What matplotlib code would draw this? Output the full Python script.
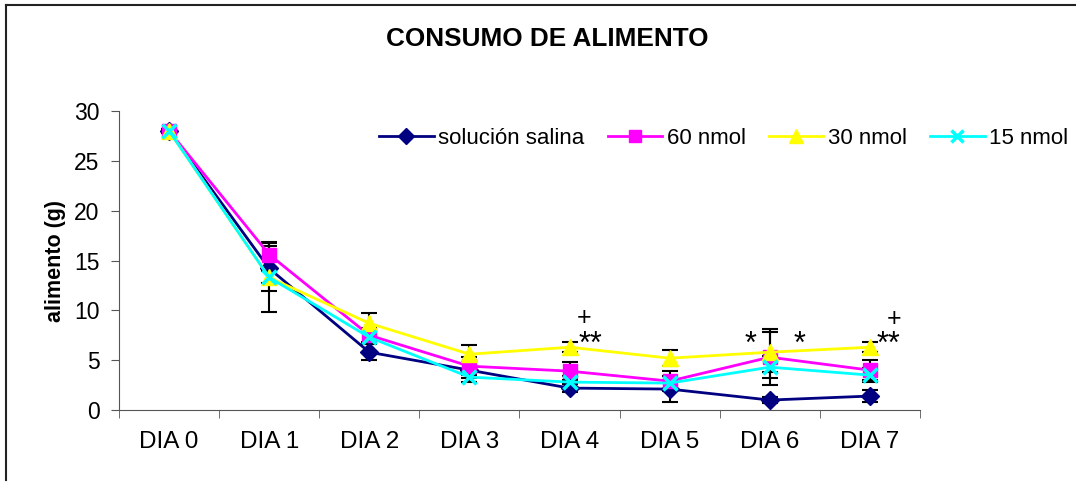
import numpy as np
import matplotlib.pyplot as plt
from matplotlib.lines import Line2D

dias = ['DIA 0', 'DIA 1', 'DIA 2', 'DIA 3', 'DIA 4', 'DIA 5', 'DIA 6', 'DIA 7']

salina = [28.0, 14.2, 5.8, 4.0, 2.2, 2.1, 1.0, 1.4]
nmol60 = [28.0, 15.6, 7.5, 4.4, 3.9, 2.9, 5.3, 4.0]
nmol30 = [28.0, 13.3, 8.7, 5.6, 6.3, 5.2, 5.8, 6.3]
nmol15 = [28.0, 13.3, 7.3, 3.3, 2.8, 2.7, 4.3, 3.5]

err_salina = [0.2, 2.3, 0.8, 0.8, 0.4, 1.3, 0.3, 0.6]
err_60 = [0.2, 1.3, 0.7, 0.9, 0.9, 1.0, 2.8, 1.0]
err_30 = [0.2, 0.6, 1.0, 0.9, 0.5, 0.8, 2.0, 0.5]
err_15 = [0.2, 3.5, 0.6, 0.5, 0.6, 0.7, 1.1, 0.7]

# significance marks: (day, y, text)
marks = [(4.14, 9.2, '+'), (4.21, 7.8, '**'),
         (5.81, 7.8, '*'), (6.30, 7.8, '*'),
         (7.18, 7.8, '**'), (7.24, 9.1, '+')]

series = [
    ('solución salina', salina, err_salina, '#000080', 'D', 9),
    ('60 nmol', nmol60, err_60, '#FF00FF', 's', 10),
    ('30 nmol', nmol30, err_30, '#FFFF00', '^', 11),
    ('15 nmol', nmol15, err_15, '#00FFFF', 'x', 10),
]

FONT = 'Liberation Sans'

fig = plt.figure(figsize=(10.76, 4.83), dpi=100)
ax = fig.add_axes([0.1106, 0.1511, 0.7444, 0.6191])

x = np.arange(len(dias))
for label, vals, err, color, marker, ms in series:
    ax.errorbar(x, vals, yerr=err, fmt='none', ecolor='black',
                elinewidth=1.5, capsize=5.5, capthick=1.5, zorder=2)
for label, vals, err, color, marker, ms in series:
    mew = 2.5 if marker == 'x' else 1
    ax.plot(x, vals, color=color, lw=2, marker=marker, ms=ms,
            mec=color, mfc=color, mew=mew, label=label, zorder=3)

for xd, yd, txt in marks:
    if txt == '+':
        ax.text(xd, yd, txt, fontsize=18, ha='center', va='center', family=FONT)
    else:
        # asterisks sit high in the glyph box, shift them down
        ax.text(xd, yd - 1.3, txt, fontsize=22, ha='center', va='center',
                family=FONT)

ax.set_xlim(-0.5, 7.5)
ax.set_ylim(0, 30)
ax.set_yticks([0, 5, 10, 15, 20, 25, 30])
ax.set_xticks(x)
ax.set_xticklabels(dias)
ax.set_xticks(np.arange(-0.5, 8, 1), minor=True)
ax.tick_params(axis='x', which='major', length=0, pad=15, labelsize=17.5)
ax.tick_params(axis='x', which='minor', length=6, color='#555555')
ax.tick_params(axis='y', length=6, color='#555555', direction='out', pad=8,
               labelsize=16.5)
for lbl in ax.get_xticklabels() + ax.get_yticklabels():
    lbl.set_family(FONT)
for s in ['top', 'right']:
    ax.spines[s].set_visible(False)
for s in ['left', 'bottom']:
    ax.spines[s].set_color('#555555')

ax.set_ylabel('alimento (g)', fontsize=15.5, fontweight='bold',
              family=FONT, labelpad=6)
fig.text(0.509, 0.919, 'CONSUMO DE ALIMENTO', fontsize=18.8, fontweight='bold',
         ha='center', va='center', family=FONT)

fig.legend(loc='center left', bbox_to_anchor=(0.340, 0.714), ncol=4,
           frameon=False, prop={'family': FONT, 'size': 16},
           handlelength=2.45, handletextpad=0.2, columnspacing=1.05,
           markerscale=0.9, borderpad=0.1)

# outer chart frame (only left and top edges visible in the crop)
fig.add_artist(Line2D([6 / 1076, 6 / 1076], [3 / 483, 1 - 5 / 483],
                      transform=fig.transFigure, color='#222222', lw=1.5))
fig.add_artist(Line2D([6 / 1076, 1], [1 - 5 / 483, 1 - 5 / 483],
                      transform=fig.transFigure, color='#222222', lw=1.5))

fig.savefig('out.png', dpi=100)
